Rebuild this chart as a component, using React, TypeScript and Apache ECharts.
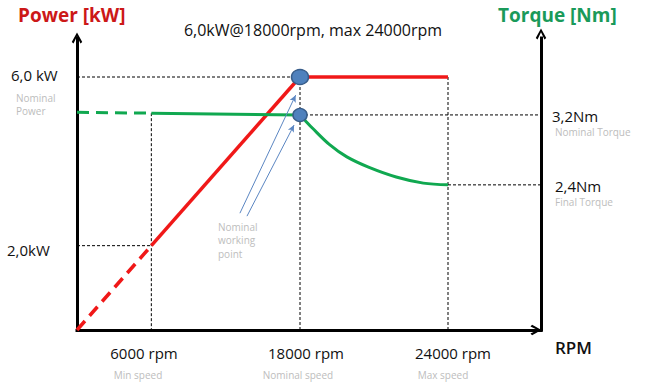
import { useEffect, useRef } from "react";
import * as echarts from "echarts";

// ---- data ----
const rpmTickLabels = ["6000 rpm", "18000 rpm", "24000 rpm"];
const rpmTickNotes = ["Min speed", "Nominal speed", "Max speed"];
const powerTickLabels = ["6,0 kW", "2,0kW"];
const torqueTickLabels = ["3,2Nm", "2,4Nm"];

const MIN_RPM = 6000;
const NOMINAL_RPM = 18000;
const MAX_RPM = 24000;
const NOMINAL_POWER = 6.0;
const MIN_SPEED_POWER = 2.0;
const NOMINAL_TORQUE = 3.2;
const FINAL_TORQUE = 2.4;

const powerExtrapolated: [number, number][] = [[0, 0], [6000, 2.0]];
const powerRamp: [number, number][] = [[6000, 2.0], [18000, 6.0]];
const powerFlat: [number, number][] = [[18000, 6.0], [24000, 6.0]];
const torqueExtrapolated: [number, number][] = [[0, 3.23], [6000, 3.22]];
const torqueFlat: [number, number][] = [[6000, 3.22], [18000, 3.2]];
const torqueFall: [number, number][] = [
  [18000, 3.2], [18200, 3.14], [18500, 3.05], [19200, 2.86], [19900, 2.72],
  [20800, 2.6], [21900, 2.49], [23000, 2.42], [24000, 2.4],
];
const workingPointArrows: [number, number, number, number][] = [
  [13150, 2.77, 17650, 5.57],
  [13720, 2.7, 17520, 4.86],
];

// ---- axis ranges (schematic, piecewise x-scale split at nominal speed) ----
const X2_MAX = 27770;
const POWER_MAX = 6.925;
const TORQUE_MIN = 0.74;
const TORQUE_MAX = 4.08;

const RED = "#F01818";
const GREEN = "#10A850";
const FONT = "'Open Sans', 'Noto Sans', sans-serif";
const GRAY = "#BDBDBD";
const ARROW = "path://M0,9 L5,0 L10,9 L8.3,10.5 L5,3.6 L1.7,10.5 Z";

export default function App() {
  const ref = useRef<HTMLDivElement>(null);
  useEffect(() => {
    document.body.style.margin = "0";
    if (!ref.current) return;
    const chart = echarts.init(ref.current, undefined, { renderer: "svg" });

    const hiddenAxisParts = {
      axisTick: { show: false },
      axisLabel: { show: false },
      splitLine: { show: false },
    };
    const axisLine = (extra: any = {}) => ({
      show: true,
      onZero: false,
      lineStyle: { color: "#000", width: 3, cap: "square" },
      ...extra,
    });

    const guide = (data: [number, number][], xi: number, yi: number, extra: any = {}) => ({
      type: "line",
      xAxisIndex: xi,
      yAxisIndex: yi,
      data,
      symbol: "none",
      clip: false,
      silent: true,
      z: 1,
      lineStyle: { color: "#000", width: 1, type: [3, 2] },
      ...extra,
    });
    const curve = (
      data: [number, number][],
      xi: number,
      yi: number,
      color: string,
      width: number,
      dashed: boolean,
      smooth: number | boolean = false
    ) => ({
      type: "line",
      xAxisIndex: xi,
      yAxisIndex: yi,
      data,
      symbol: "none",
      clip: false,
      silent: true,
      smooth,
      z: 3,
      lineStyle: { color, width, type: dashed ? [12, 7] : "solid" },
    });
    const marker = (x: number, y: number, yi: number, size: [number, number]) => ({
      type: "scatter",
      xAxisIndex: 0,
      yAxisIndex: yi,
      clip: false,
      silent: true,
      z: 5,
      symbol: "circle",
      symbolSize: size,
      itemStyle: { color: "#4F81BD", borderColor: "#385D8A", borderWidth: 1.5, opacity: 1 },
      data: [[x, y]],
    });

    const txt = (text: string, x: number, y: number, size: number, fill: string, align = "left", weight: any = "normal", extra: any = {}) => ({
      type: "text",
      x,
      y,
      silent: true,
      style: {
        text,
        fill,
        fontSize: size,
        fontFamily: FONT,
        fontWeight: weight,
        align,
        verticalAlign: "middle",
        ...extra,
      },
    });

    chart.setOption({
      animation: false,
      backgroundColor: "#fff",
      grid: [
        { left: 77, top: 38, width: 223, height: 292, outerBoundsMode: "none" },
        { left: 300, top: 38, width: 241, height: 292, outerBoundsMode: "none" },
      ],
      xAxis: [
        { type: "value", gridIndex: 0, min: 0, max: NOMINAL_RPM, axisLine: axisLine(), ...hiddenAxisParts },
        {
          type: "value",
          gridIndex: 1,
          min: NOMINAL_RPM,
          max: X2_MAX,
          axisLine: axisLine({ symbol: ["none", ARROW], symbolSize: [11, 11], symbolOffset: [0, -5] }),
          ...hiddenAxisParts,
        },
      ],
      yAxis: [
        {
          type: "value",
          gridIndex: 0,
          position: "left",
          min: 0,
          max: POWER_MAX,
          axisLine: axisLine({ symbol: ["none", ARROW], symbolSize: [11, 11] }),
          ...hiddenAxisParts,
        },
        { type: "value", gridIndex: 0, position: "right", min: TORQUE_MIN, max: TORQUE_MAX, show: false },
        { type: "value", gridIndex: 1, position: "left", min: 0, max: POWER_MAX, show: false },
        {
          type: "value",
          gridIndex: 1,
          position: "right",
          min: TORQUE_MIN,
          max: TORQUE_MAX,
          axisLine: axisLine({ symbol: ["none", ARROW], symbolSize: [11, 11], symbolOffset: [0, 4] }),
          ...hiddenAxisParts,
        },
      ],
      series: [
        // dashed guide lines
        guide([[0, NOMINAL_POWER], [NOMINAL_RPM, NOMINAL_POWER]], 0, 0, {
          markLine: {
            silent: true,
            symbol: ["none", "arrow"],
            symbolSize: [5, 7],
            label: { show: false },
            lineStyle: { color: "#5B86C2", width: 1, type: "solid" },
            data: workingPointArrows.map(([x1, y1, x2, y2]) => [{ coord: [x1, y1] }, { coord: [x2, y2] }]),
          },
        }),
        guide([[NOMINAL_RPM, NOMINAL_POWER], [NOMINAL_RPM, 0]], 0, 0),
        guide([[0, MIN_SPEED_POWER], [MIN_RPM, MIN_SPEED_POWER]], 0, 0),
        guide([[MIN_RPM, torqueFlat[0][1]], [MIN_RPM, TORQUE_MIN]], 0, 1),
        guide([[NOMINAL_RPM, NOMINAL_TORQUE], [X2_MAX, NOMINAL_TORQUE]], 1, 3),
        guide([[MAX_RPM, FINAL_TORQUE], [X2_MAX, FINAL_TORQUE]], 1, 3),
        guide([[MAX_RPM, NOMINAL_POWER], [MAX_RPM, 0]], 1, 2),
        // power curve
        curve(powerExtrapolated, 0, 0, RED, 3.5, true),
        curve(powerRamp, 0, 0, RED, 3.5, false),
        curve(powerFlat, 1, 2, RED, 3.5, false),
        // torque curve
        curve(torqueExtrapolated, 0, 1, GREEN, 3, true),
        curve(torqueFlat, 0, 1, GREEN, 3, false),
        curve(torqueFall, 1, 3, GREEN, 3, false, 0.35),
        // nominal working point markers
        marker(NOMINAL_RPM, NOMINAL_POWER, 0, [17, 15]),
        marker(NOMINAL_RPM, NOMINAL_TORQUE, 1, [14, 13]),
      ],
      graphic: [
        txt("Power [kW]", 18, 15, 19, "#CC1818", "left", "bold"),
        txt("Torque [Nm]", 498, 15, 19, "#1A9A5A", "left", "bold"),
        txt("6,0kW@18000rpm, max 24000rpm", 313, 30, 16, "#111", "center"),
        txt(powerTickLabels[0], 11, 75, 15, "#111"),
        txt("Nominal\nPower", 16, 104, 10, GRAY, "left", "normal", { lineHeight: 13 }),
        txt(powerTickLabels[1], 7, 250, 15, "#111"),
        txt(torqueTickLabels[0], 552, 116, 15, "#111"),
        txt("Nominal Torque", 555, 132, 10, GRAY),
        txt(torqueTickLabels[1], 555, 186, 15, "#111"),
        txt("Final Torque", 555, 202, 10, GRAY),
        txt(rpmTickLabels[0], 144, 353, 15, "#111", "center"),
        txt(rpmTickNotes[0], 138, 375, 10, GRAY, "center"),
        txt(rpmTickLabels[1], 306, 353, 15, "#111", "center"),
        txt(rpmTickNotes[1], 298, 375, 10, GRAY, "center"),
        txt(rpmTickLabels[2], 453, 353, 15, "#111", "center"),
        txt(rpmTickNotes[2], 443, 375, 10, GRAY, "center"),
        txt("RPM", 555, 347, 17, "#111", "left", 600),
        txt("Nominal\nworking\npoint", 218, 240, 10, GRAY, "left", "normal", { lineHeight: 13.5 }),
      ],
    });
    return () => chart.dispose();
  }, []);
  return <div ref={ref} style={{ width: 654, height: 390 }} />;
}
